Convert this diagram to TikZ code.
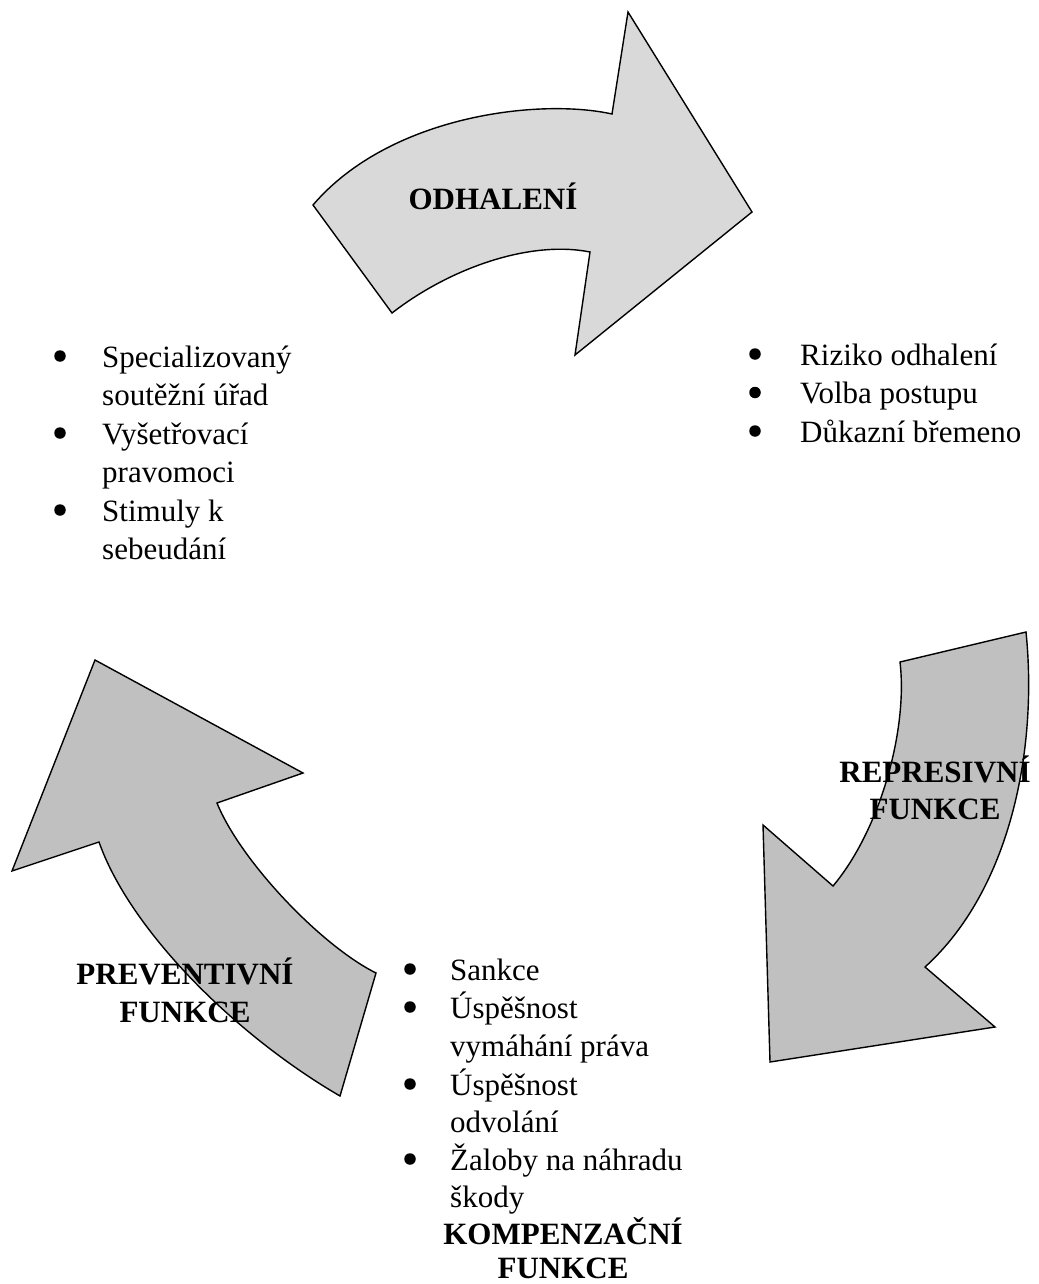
\documentclass[tikz,border=0pt]{standalone}
\usepackage{fontspec}
\setmainfont{Liberation Serif}
\begin{document}
\begin{tikzpicture}[x=1pt,y=-1pt,
  arrowA/.style={draw=black,line width=1.4pt,line join=miter,fill=light},
  arrowB/.style={draw=black,line width=1.4pt,line join=miter,fill=mid},
  txt/.style={inner sep=0pt,anchor=base west,font=\fontsize{31}{37}\selectfont},
  bul/.style={circle,fill=black,inner sep=0pt,minimum size=11.5pt},
  hd/.style={inner sep=0pt,anchor=base,font=\fontsize{31}{37}\selectfont\bfseries}]
\definecolor{light}{HTML}{D9D9D9}
\definecolor{mid}{HTML}{C0C0C0}
\useasboundingbox (0,0) rectangle (1038,1284);
% top arrow
\draw[arrowA] (313,205) -- (392,313) .. controls (450,268) and (530,240) .. (590,252)
  -- (575,355) -- (752,212) -- (628,12) -- (612,114)
  .. controls (540,98) and (390,115) .. (313,205) -- cycle;
% right arrow
\draw[arrowB] (900,662) -- (1026,632) .. controls (1038,750) and (1010,890) .. (925,967)
  -- (995,1027) -- (770,1062) -- (763,825) -- (833,886)
  .. controls (880,830) and (908,730) .. (900,662) -- cycle;
% left arrow
\draw[arrowB] (95,660) -- (303,773) -- (217,803) .. controls (240,860) and (320,945) .. (376,973)
  -- (340,1096) .. controls (235,1035) and (130,930) .. (99,842)
  -- (12,871) -- cycle;
% headings
\node[hd] (odh) at (493,209) {ODHALENÍ};
\node[hd] (rep1) at (935,782) {REPRESIVNÍ};
\node[hd] (rep2) at (935,819) {FUNKCE};
\node[hd] (pre1) at (185,984) {PREVENTIVNÍ};
\node[hd] (pre2) at (185,1022) {FUNKCE};
\node[hd] (kom1) at (563,1244) {KOMPENZAČNÍ};
\node[hd] (kom2) at (563,1278) {FUNKCE};
% left list
\node[bul] (lb1) at (60,356) {};
\node[bul] (lb2) at (60,433) {};
\node[bul] (lb3) at (60,510) {};
\node[txt] (l1) at (102,367) {Specializovaný};
\node[txt] (l2) at (102,405.5) {soutěžní úřad};
\node[txt] (l3) at (102,444) {Vyšetřovací};
\node[txt] (l4) at (102,482.5) {pravomoci};
\node[txt] (l5) at (102,521) {Stimuly k};
\node[txt] (l6) at (102,559.5) {sebeudání};
% right list
\node[bul] (rb1) at (755,354) {};
\node[bul] (rb2) at (755,392.5) {};
\node[bul] (rb3) at (755,431) {};
\node[txt] (r1) at (800,365) {Riziko odhalení};
\node[txt] (r2) at (800,403.5) {Volba postupu};
\node[txt] (r3) at (800,442) {Důkazní břemeno};
% bottom list
\node[bul] (bb1) at (410,969) {};
\node[bul] (bb2) at (410,1007) {};
\node[bul] (bb3) at (410,1084) {};
\node[bul] (bb4) at (410,1159) {};
\node[txt] (b1) at (450,980) {Sankce};
\node[txt] (b2) at (450,1018) {Úspěšnost};
\node[txt] (b3) at (450,1056) {vymáhání práva};
\node[txt] (b4) at (450,1095) {Úspěšnost};
\node[txt] (b5) at (450,1132) {odvolání};
\node[txt] (b6) at (450,1170) {Žaloby na náhradu};
\node[txt] (b7) at (450,1207) {škody};
\end{tikzpicture}
\end{document}
